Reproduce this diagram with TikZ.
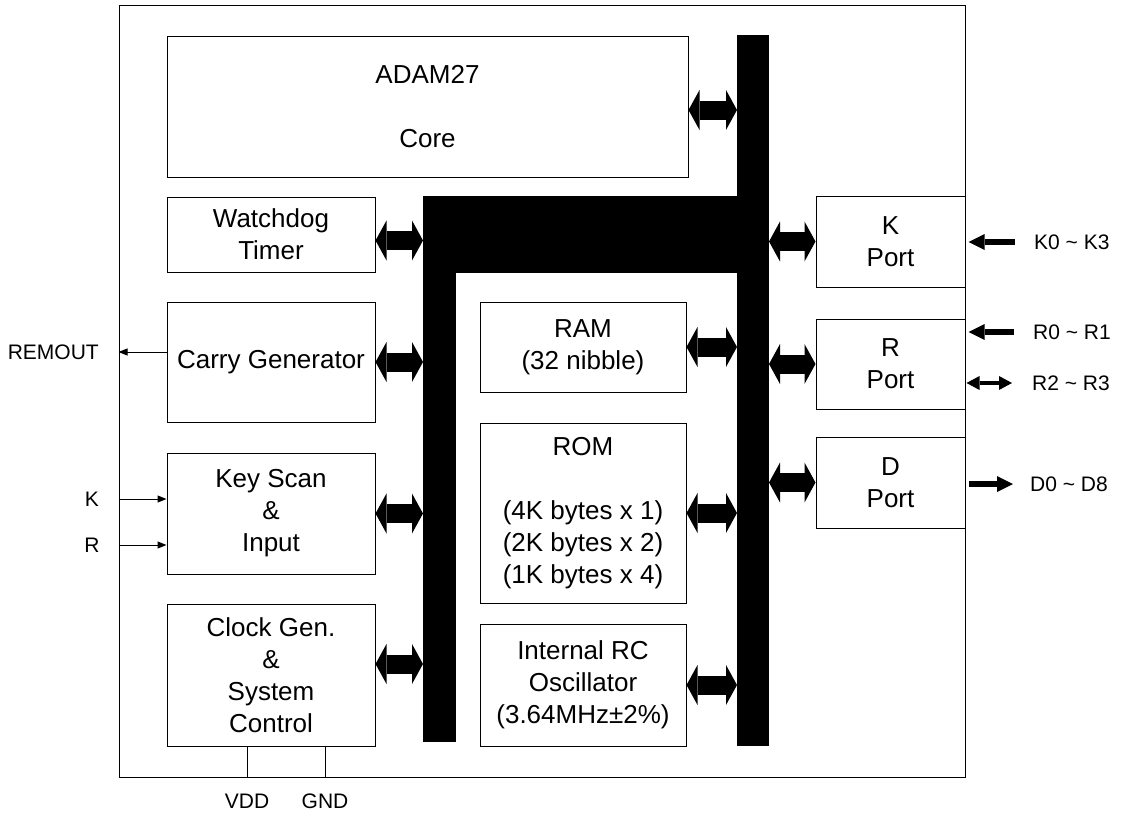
\documentclass[tikz,border=0pt]{standalone}
\usepackage{fontspec}
\setmainfont{Liberation Sans}
\usetikzlibrary{arrows.meta}
\begin{document}
\begin{tikzpicture}[x=1pt, y=-1pt, line join=miter,
	blk/.style={draw, line width=1pt, inner sep=0pt, align=center, font=\fontsize{26}{32}\selectfont},
	bus/.style={fill=black, inner sep=0pt, outer sep=0pt},
	busarrow/.style={line width=19pt, {Triangle[width=40pt,length=11pt,line width=0pt]}-{Triangle[width=40pt,length=11pt,line width=0pt]}},
	pinlbl/.style={inner sep=0pt, font=\fontsize{21}{25}\selectfont},
	sig/.style={line width=1pt, -{Triangle[width=7pt,length=9pt]}},
	pinin/.style={line width=6pt, -{Triangle[width=16pt,length=16pt,line width=0pt]}, shorten <=19pt, shorten >=3pt},
	pinout/.style={line width=6pt, -{Triangle[width=16pt,length=16pt,line width=0pt]}, shorten <=3pt, shorten >=17pt},
	pinbi/.style={line width=4pt, {Triangle[width=14pt,length=13pt,line width=0pt]}-{Triangle[width=14pt,length=13pt,line width=0pt]}, shorten <=1pt, shorten >=20pt}]
	\useasboundingbox (0,0) rectangle (1127,814);
	\node[draw, line width=1pt, inner sep=0pt, minimum width=846pt, minimum height=772pt] (chip) at (542,391) {};
	\node[bus, minimum width=32pt, minimum height=711pt] (rbus) at (753,390.5) {};
	\node[bus, minimum width=346pt, minimum height=77pt] (hbus) at (596,234.5) {};
	\node[bus, minimum width=33pt, minimum height=546pt] (lbus) at (439.5,469) {};
	\node[blk, minimum width=521pt, minimum height=141pt] (core) at (427.5,106.5) {ADAM27\\[32pt]Core};
	\node[blk, minimum width=208pt, minimum height=75pt] (wdt) at (271,234.5) {Watchdog\\Timer};
	\node[blk, minimum width=208pt, minimum height=120pt] (carry) at (271,362) {Carry Generator};
	\node[blk, minimum width=208pt, minimum height=121pt] (keyscan) at (271,513.5) {Key Scan\\\&\\Input};
	\node[blk, minimum width=208pt, minimum height=142pt] (clock) at (271,675) {Clock Gen.\\\&\\System\\Control};
	\node[blk, minimum width=206pt, minimum height=90pt] (ram) at (583,347) {RAM\\(32 nibble)};
	\node[blk, minimum width=206pt, minimum height=180pt] (rom) at (583,513) {ROM\\[32pt](4K bytes x 1)\\(2K bytes x 2)\\(1K bytes x 4)};
	\node[blk, minimum width=206pt, minimum height=122pt] (osc) at (583,685) {Internal RC\\Oscillator\\(3.64MHz±2\%)};
	\node[blk, minimum width=149pt, minimum height=91pt] (kport) at (890.5,241.5) {K\\Port};
	\node[blk, minimum width=149pt, minimum height=90pt] (rport) at (890.5,364) {R\\Port};
	\node[blk, minimum width=149pt, minimum height=91pt] (dport) at (890.5,482.5) {D\\Port};
	\coordinate (corep) at ([yshift=-3.5pt]core.east);
	\coordinate (wdtp) at ([yshift=-6pt]wdt.east);
	\coordinate (clkp) at ([yshift=11pt]clock.east);
	\draw[busarrow] (corep) -- (corep -| rbus.west);
	\draw[busarrow] (wdtp) -- (wdtp -| lbus.west);
	\draw[busarrow] (carry.east) -- (carry.east -| lbus.west);
	\draw[busarrow] (keyscan.east) -- (keyscan.east -| lbus.west);
	\draw[busarrow] (clkp) -- (clkp -| lbus.west);
	\draw[busarrow] (ram.east) -- (ram.east -| rbus.west);
	\draw[busarrow] (rom.east) -- (rom.east -| rbus.west);
	\draw[busarrow] (osc.east) -- (osc.east -| rbus.west);
	\draw[busarrow] (rbus.east |- kport.west) -- (kport.west);
	\draw[busarrow] (rbus.east |- rport.west) -- (rport.west);
	\draw[busarrow] (rbus.east |- dport.west) -- (dport.west);
	\node[pinlbl, anchor=west] (kpin) at (1034,242) {K0 \textasciitilde{} K3};
	\node[pinlbl, anchor=west] (r01) at (1033,332) {R0 \textasciitilde{} R1};
	\node[pinlbl, anchor=west] (r23) at (1032,383) {R2 \textasciitilde{} R3};
	\node[pinlbl, anchor=west] (dpin) at (1030,484) {D0 \textasciitilde{} D8};
	\draw[pinin] (kpin.west) -- (kpin.west -| chip.east);
	\draw[pinin] (r01.west) -- (r01.west -| chip.east);
	\draw[pinbi] (r23.west -| chip.east) -- (r23.west);
	\draw[pinout] (dpin.west -| chip.east) -- (dpin.west);
	\node[pinlbl, anchor=east] (remout) at (99,352) {REMOUT};
	\node[pinlbl] (kin) at (92,499) {K};
	\node[pinlbl] (rin) at (92,545) {R};
	\draw[sig] (carry.west |- remout) -- (chip.west |- remout);
	\draw[sig] (chip.west |- kin) -- (keyscan.west |- kin);
	\draw[sig] (chip.west |- rin) -- (keyscan.west |- rin);
	\node[pinlbl] (vdd) at (247,801) {VDD};
	\node[pinlbl] (gnd) at (325,801) {GND};
	\draw[line width=1pt] (clock.south -| vdd) -- (chip.south -| vdd);
	\draw[line width=1pt] (clock.south -| gnd) -- (chip.south -| gnd);
\end{tikzpicture}
\end{document}
